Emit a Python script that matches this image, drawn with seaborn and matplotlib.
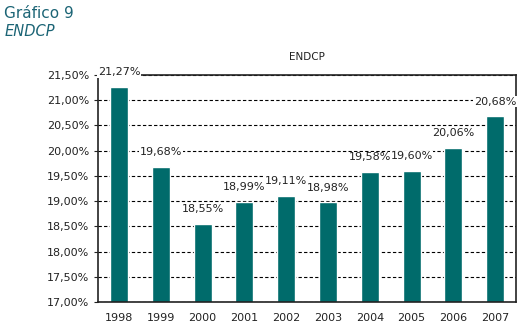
import matplotlib
matplotlib.use("Agg")
import matplotlib.pyplot as plt
from matplotlib.ticker import FixedLocator, FuncFormatter
import seaborn as sns
import pandas as pd

years = ["1998", "1999", "2000", "2001", "2002", "2003", "2004", "2005", "2006", "2007"]
endcp = [21.27, 19.68, 18.55, 18.99, 19.11, 18.98, 19.58, 19.60, 20.06, 20.68]

df = pd.DataFrame({"year": years, "endcp": endcp})

sns.set_style("white")
plt.rcParams["font.family"] = ["DejaVu Sans"]

fig = plt.figure(figsize=(5.24, 3.33), dpi=100)
ax = fig.add_axes([0.187, 0.093, 0.798, 0.682])

sns.barplot(data=df, x="year", y="endcp", color="#006b6b", saturation=1,
            width=0.43, ax=ax)

ax.set_ylim(17, 21.5)
ax.set_xlim(-0.5, len(years) - 0.5)
ax.set_yticks([17 + 0.5 * i for i in range(10)])
ax.yaxis.set_major_formatter(FuncFormatter(lambda v, p: f"{v:.2f}%".replace(".", ",")))
ax.yaxis.grid(True, linestyle=(0, (3, 2)), color="black", linewidth=0.8)
ax.set_axisbelow(True)
ax.set_xlabel("")
ax.set_ylabel("")

for s in ax.spines.values():
    s.set_color("#222222")
    s.set_linewidth(1.2)

ax.tick_params(axis="x", which="major", length=0, pad=8, labelsize=8, labelcolor="#222222")
ax.xaxis.set_minor_locator(FixedLocator([i + 0.5 for i in range(len(years) - 1)]))
ax.tick_params(axis="x", which="minor", direction="in", length=4, width=1, color="#222222")
ax.tick_params(axis="y", length=3, width=0.8, color="#222222", labelsize=8,
               labelcolor="#222222", left=True)

for i, v in enumerate(endcp):
    ax.annotate(f"{v:.2f}%".replace(".", ","), (i, v), xytext=(0, 10.5),
                textcoords="offset points", ha="center", va="center",
                fontsize=8, color="#222222",
                bbox=dict(facecolor="white", edgecolor="none", pad=0.5),
                annotation_clip=False)

fig.text(0.586, 1 - 57 / 333, "ENDCP", ha="center", va="center", fontsize=7.5, color="#222222")
fig.text(0.008, 1 - 13 / 333, "Gráfico 9", ha="left", va="center", fontsize=11, color="#1b6475")
fig.text(0.008, 1 - 31 / 333, "ENDCP", ha="left", va="center", fontsize=10.5,
         style="italic", color="#1b6475")

fig.savefig("out.png", dpi=100)
